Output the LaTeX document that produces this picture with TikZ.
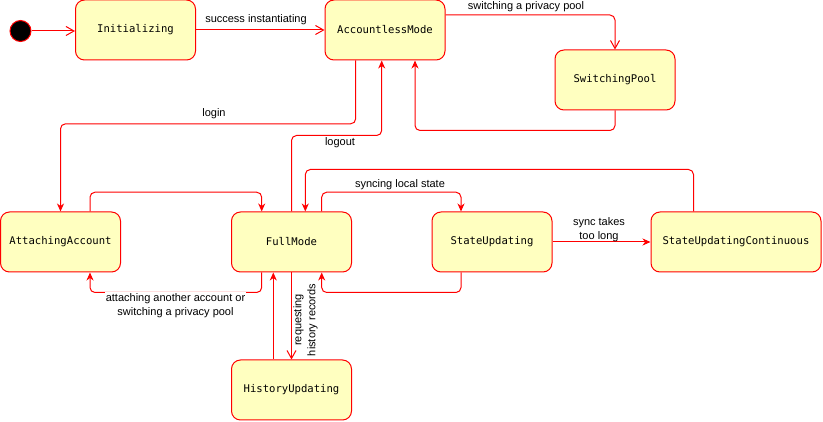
\documentclass[tikz,border=0pt]{standalone}
\usepackage{fontspec}
\setmainfont{Liberation Sans}
\newfontfamily\monofont{DejaVu Sans Mono}
\usetikzlibrary{arrows.meta}
\definecolor{stfill}{HTML}{FFFFC0}
\definecolor{stline}{HTML}{FF0000}
\begin{document}
\begin{tikzpicture}[x=1pt,y=-1pt,
  state/.style={draw=stline, fill=stfill, rounded corners=9pt, line width=1pt,
    minimum width=120pt, minimum height=60pt, inner sep=0pt,
    font=\monofont\fontsize{10.6}{12}\selectfont},
  tr/.style={draw=stline, line width=1pt, rounded corners=5pt,
    -{Stealth[length=8pt,width=7pt,inset=2.5pt]}},
  otr/.style={draw=stline, line width=1pt, rounded corners=5pt,
    -{Straight Barb[length=8pt,width=9pt]}},
  lbl/.style={font=\fontsize{11}{14}\selectfont, inner sep=1pt, align=center}]
\useasboundingbox (0,0) rectangle (823,422);

\node[circle, fill=black, draw=stline, line width=1pt, minimum size=21pt, inner sep=0pt] (start) at (20.5,31) {};
\node[state] (ini) at (135.5,30) {Initializing};
\node[state] (acc) at (385,30) {AccountlessMode};
\node[state] (sw) at (615,80) {SwitchingPool};
\node[state] (att) at (60.5,242) {AttachingAccount};
\node[state] (full) at (291.5,242) {FullMode};
\node[state] (su) at (492,242) {StateUpdating};
\node[state, minimum width=170pt] (suc) at (736,242) {StateUpdatingContinuous};
\node[state] (hist) at (291.5,390) {HistoryUpdating};

% initial
\draw[otr] (start.east) -- (start.east -| ini.west);
% success instantiating
\draw[otr] (ini) -- (acc);
\node[lbl] (l1) at (256,20) {success instantiating};
% switching pool
\draw[otr] (acc.east |- 0,15) -| (sw.north);
\node[lbl] (l2) at (526,7) {switching a privacy pool};
% back from switching pool
\draw[tr] (sw.south) -- ++(0,20) -| ([xshift=30pt]acc.south);
% login
\draw[tr] ([xshift=-29.3pt]acc.south) -- ++(0,63.3) -| (att.north);
\node[lbl] (l3) at (214,114) {login};
% logout
\draw[tr] (full.north) -- ++(0,-76) -| ([xshift=-3.3pt]acc.south);
\node[lbl] (l4) at (340,143) {logout};
% attaching -> full
\draw[tr] ([xshift=29.5pt]att.north) -- ++(0,-19.3) -| ([xshift=-29.8pt]full.north);
% full -> state updating
\draw[tr] ([xshift=30.2pt]full.north) -- ++(0,-19.3) -| ([xshift=-31pt]su.north);
\node[lbl] (l5) at (400,185) {syncing local state};
% state updating -> full
\draw[tr] ([xshift=-31pt]su.south) -- ++(0,20) -| ([xshift=30.2pt]full.south);
% continuous -> full
\draw[tr] ([xshift=-42.5pt]suc.north) -- ++(0,-42) -| ([xshift=13.8pt]full.north);
% state updating -> continuous
\draw[tr] (su) -- (suc);
\node[lbl] (l6) at (599,229.5) {sync takes\\too long};
% full -> attaching
\draw[tr] ([xshift=-29.8pt]full.south) -- ++(0,20) -| ([xshift=29.5pt]att.south);
\node[lbl, fill=white] (l7) at (175.5,305.5) {attaching another account or\\switching a privacy pool};
% history -> full
\draw[tr] ([xshift=-18.2pt]hist.north) -- ([xshift=-18.2pt]full.south);
% full -> history
\draw[otr] (full.south) -- (hist.north);
\node[lbl, rotate=90] (l8) at (305.5,320) {requesting\\history records};
\end{tikzpicture}
\end{document}
